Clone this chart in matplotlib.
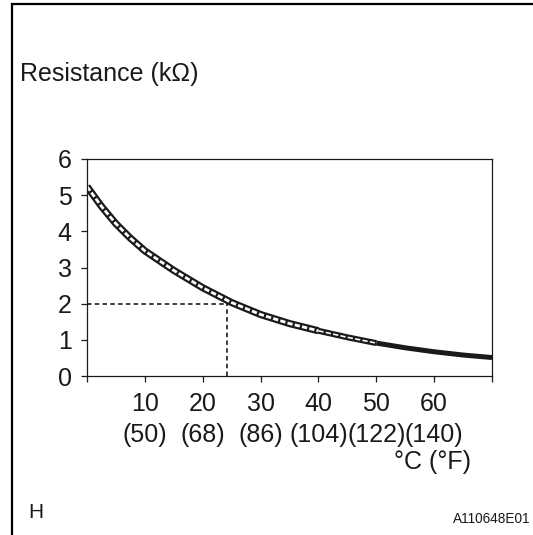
import matplotlib
matplotlib.use("Agg")
import matplotlib.pyplot as plt
from matplotlib.patches import Rectangle

plt.rcParams['font.family'] = ['Liberation Sans', 'DejaVu Sans']
plt.rcParams['lines.scale_dashes'] = False

# temperature (deg C) and resistance (kOhm)
temp_c = [0, 2.5, 5, 7.5, 10, 15, 20, 25, 30, 35, 40, 45, 50, 55, 60, 65, 70]
resist = [5.24, 4.69, 4.21, 3.81, 3.46, 2.92, 2.44, 2.03, 1.70, 1.45, 1.25,
          1.07, 0.91, 0.78, 0.67, 0.58, 0.51]

ref_temp = 24.2
ref_resist = 2.0

x_ticks = [0, 10, 20, 30, 40, 50, 60, 70]
x_labels = ['', '10\n(50)', '20\n(68)', '30\n(86)', '40\n(104)', '50\n(122)',
            '60\n(140)', '']
y_ticks = [0, 1, 2, 3, 4, 5, 6]

W, H = 533, 535
fig = plt.figure(figsize=(W / 100, H / 100), dpi=100)
ax = fig.add_axes([87 / W, 1 - 376 / H, (492 - 87) / W, (376 - 159) / H])

# the band: black tube with a white dashed core that fades to the right
pieces = [(0, 11, 7.2, 2.8), (10, 13, 6.0, 1.6), (12, 17, 5.0, 0.0)]
for i0, i1, lw_black, lw_white in pieces:
    xs = temp_c[i0:i1]
    ys = resist[i0:i1]
    ax.plot(xs, ys, color='#1a1a1a', lw=lw_black * 0.72,
            solid_capstyle='butt', solid_joinstyle='round')
    if lw_white > 0:
        ax.plot(xs, ys, color='white', lw=lw_white * 0.72,
                dashes=(3.8, 1.6), solid_capstyle='butt')

# reference lines at 2 kOhm
ax.plot([0, ref_temp], [ref_resist, ref_resist], color='#1a1a1a', lw=1.2,
        dashes=(3.2, 2.4))
ax.plot([ref_temp, ref_temp], [0, ref_resist], color='#1a1a1a', lw=1.2,
        dashes=(3.2, 2.4))

ax.set_xlim(0, 70)
ax.set_ylim(0, 6)
ax.set_xticks(x_ticks)
ax.set_xticklabels(x_labels, linespacing=1.35)
ax.set_yticks(y_ticks)
ax.tick_params(axis='both', direction='out', length=4, width=0.9,
               labelsize=18, colors='#1a1a1a')
ax.tick_params(axis='x', pad=7.5)
ax.tick_params(axis='y', pad=7)
for s in ax.spines.values():
    s.set_linewidth(0.9)
    s.set_color('#1a1a1a')

fig.text(20 / W, 1 - 74 / H, 'Resistance (k\u03a9)', fontsize=18,
         ha='left', va='center', color='#1a1a1a')
fig.text(471 / W, 1 - 462 / H, '\u00b0C (\u00b0F)', fontsize=18,
         ha='right', va='center', color='#1a1a1a')
fig.text(28 / W, 1 - 513 / H, 'H', fontsize=15, ha='left', va='center',
         color='#1a1a1a')
fig.text(530 / W, 1 - 519 / H, 'A110648E01', fontsize=9.8, ha='right',
         va='center', color='#1a1a1a')

# outer frame, running off the right and bottom edges
fig.patches.append(Rectangle((12 / W, -0.1), 1.0, 1.1 - 4 / H,
                             transform=fig.transFigure, fill=False,
                             lw=1.6, edgecolor='black'))

fig.savefig('out.png', dpi=100)
